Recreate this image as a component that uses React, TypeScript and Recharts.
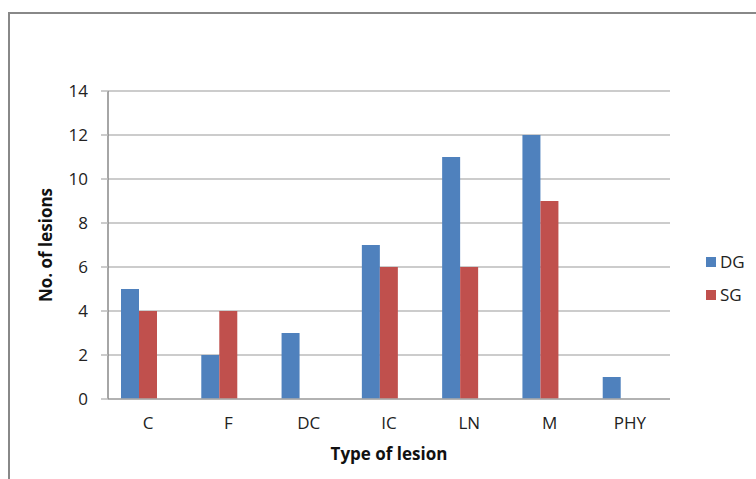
import { Bar, BarChart, CartesianGrid, Legend, Rectangle, XAxis, YAxis } from "recharts";

const lesionTypes = ["C", "F", "DC", "IC", "LN", "M", "PHY"];
const dgCounts = [5, 2, 3, 7, 11, 12, 1];
const sgCounts = [4, 4, 0, 6, 6, 9, 0];
const yTicks = [0, 2, 4, 6, 8, 10, 12, 14];

const data = lesionTypes.map((t, i) => ({ type: t, DG: dgCounts[i], SG: sgCounts[i] }));

const FONT = "'Open Sans', sans-serif";
const BLUE = "#4F81BD";
const RED = "#C0504D";

// the original's bar pairs sit a little left of their category labels
const ShiftedBar = (props: any) => <Rectangle {...props} x={props.x - 9} />;

function LegendBox() {
  const items = [
    { name: "DG", color: BLUE },
    { name: "SG", color: RED },
  ];
  return (
    <div style={{ fontFamily: FONT, fontSize: 17, color: "#222" }}>
      {items.map((it) => (
        <div key={it.name} style={{ display: "flex", alignItems: "center", height: 33 }}>
          <span style={{ width: 10, height: 10, background: it.color, marginRight: 4 }} />
          <span>{it.name}</span>
        </div>
      ))}
    </div>
  );
}

export default function App() {
  return (
    <div style={{ position: "absolute", left: 0, top: 0, width: 756, height: 479, background: "#fff", overflow: "hidden" }}>
      <div
        style={{
          position: "absolute",
          left: 8,
          top: 12,
          width: 800,
          height: 500,
          borderLeft: "2px solid #888",
          borderTop: "2px solid #888",
        }}
      />
      <BarChart
        width={756}
        height={479}
        data={data}
        margin={{ top: 91, right: 86, bottom: 0, left: 60 }}
        barCategoryGap={22}
        barGap={0}
        style={{ position: "absolute", left: 0, top: 0 }}
      >
        <CartesianGrid vertical={false} stroke="#BBBBBB" strokeWidth={1.5} />
        <XAxis
          dataKey="type"
          height={80}
          tickLine={false}
          axisLine={{ stroke: "#AAAAAA", strokeWidth: 1.5 }}
          tick={{ fontFamily: FONT, fontSize: 17, fill: "#222" }}
          tickMargin={12}
          label={{
            value: "Type of lesion",
            position: "insideBottom",
            offset: 19,
            style: { fontFamily: FONT, fontSize: 17, fontWeight: "bold", fill: "#111" },
          }}
        />
        <YAxis
          width={48}
          domain={[0, 14]}
          ticks={yTicks}
          interval={0}
          tickSize={7}
          tickLine={{ stroke: "#BBBBBB", strokeWidth: 1.5 }}
          axisLine={{ stroke: "#888888", strokeWidth: 1.5 }}
          tick={{ fontFamily: FONT, fontSize: 17, fill: "#222" }}
          tickMargin={13}
          label={{
            value: "No. of lesions",
            angle: -90,
            position: "insideLeft",
            offset: -14,
            style: { textAnchor: "middle", fontFamily: FONT, fontSize: 17, fontWeight: "bold", fill: "#111" },
          }}
        />
        <Legend
          layout="vertical"
          verticalAlign="middle"
          align="center"
          content={<LegendBox />}
          wrapperStyle={{ position: "absolute", left: 706, top: 245, width: 50 }}
        />
        <Bar dataKey="DG" fill={BLUE} shape={ShiftedBar} isAnimationActive={false} />
        <Bar dataKey="SG" fill={RED} shape={ShiftedBar} isAnimationActive={false} />
      </BarChart>
    </div>
  );
}
